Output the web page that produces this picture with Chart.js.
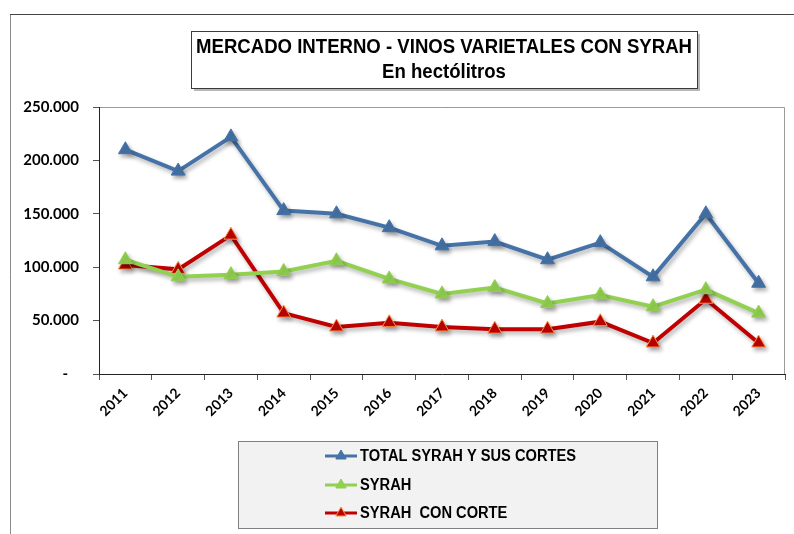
<!DOCTYPE html>
<html>
<head>
<meta charset="utf-8">
<script src="https://cdn.jsdelivr.net/npm/chart.js@4.4.1/dist/chart.umd.min.js"></script>
<style>
  html, body { margin: 0; padding: 0; background: #fff; }
  #wrap { position: relative; width: 794px; height: 534px; }
</style>
</head>
<body>
<div id="wrap"><canvas id="chart" width="794" height="534"></canvas></div>
<script>
// chart data
const years = ['2011', '2012', '2013', '2014', '2015', '2016', '2017', '2018', '2019', '2020', '2021', '2022', '2023'];
const totalSyrah = [210000, 190000, 222000, 153000, 150000, 137000, 120000, 124000, 107000, 123000, 91000, 150000, 85000];
const syrah = [107000, 91000, 93000, 96000, 106000, 89000, 75000, 81000, 66000, 74000, 63000, 79000, 57000];
const syrahConCorte = [102000, 98000, 130000, 57000, 44000, 48000, 44000, 42000, 42000, 49000, 29000, 70000, 29000];
const seriesNames = ['TOTAL SYRAH Y SUS CORTES', 'SYRAH', 'SYRAH  CON CORTE'];
const yTicks = [0, 50000, 100000, 150000, 200000, 250000];
const titleLines = ['MERCADO INTERNO - VINOS VARIETALES CON SYRAH', 'En hectólitros'];

function formatMiles(v) {
    if (v === 0) return '-   ';
    return String(v).replace(/\B(?=(\d{3})+(?!\d))/g, '.');
}

// soft shadow under each line
const lineShadow = {
    id: 'lineShadow',
    beforeDatasetDraw(chart) {
        const c = chart.ctx;
        c.save();
        c.shadowColor = 'rgba(0,0,0,0.3)';
        c.shadowBlur = 4;
        c.shadowOffsetX = 2;
        c.shadowOffsetY = 3;
    },
    afterDatasetDraw(chart) {
        chart.ctx.restore();
    }
};

// outer frame, plot box, title box and legend box
const decorations = {
    id: 'decorations',
    beforeDraw(chart) {
        const c = chart.ctx;
        const a = chart.chartArea;
        c.save();
        c.strokeStyle = '#8a8a8a';
        c.lineWidth = 1;
        c.beginPath();
        c.moveTo(10.5, 534);
        c.lineTo(10.5, 14.5);
        c.stroke();
        c.strokeStyle = '#444';
        c.beginPath();
        c.moveTo(10, 14.5);
        c.lineTo(794, 14.5);
        c.stroke();
        // plot box top / right
        c.strokeStyle = '#9a9a9a';
        c.beginPath();
        c.moveTo(a.left, Math.round(a.top) + 0.5);
        c.lineTo(Math.round(a.right) - 0.5, Math.round(a.top) + 0.5);
        c.lineTo(Math.round(a.right) - 0.5, a.bottom);
        c.stroke();
        c.restore();
    },
    afterDraw(chart) {
        const c = chart.ctx;
        c.save();
        // title box
        const tx = 191, ty = 31, tw = 506, th = 57;
        c.fillStyle = 'rgba(0,0,0,0.28)';
        c.fillRect(tx + 3, ty + 3, tw, th);
        c.fillStyle = '#fff';
        c.fillRect(tx, ty, tw, th);
        c.strokeStyle = '#3a3a3a';
        c.lineWidth = 1;
        c.strokeRect(tx + 0.5, ty + 0.5, tw, th);
        c.fillStyle = '#000';
        c.textAlign = 'center';
        c.textBaseline = 'middle';
        c.font = 'bold 20px "Liberation Sans", Arial, sans-serif';
        const w1 = c.measureText(titleLines[0]).width;
        const sx = Math.min(1, 496 / w1);
        const cx = tx + tw / 2;
        c.save();
        c.translate(cx, 47);
        c.scale(sx, 1);
        c.fillText(titleLines[0], 0, 0);
        c.restore();
        c.save();
        c.translate(cx, 72);
        c.scale(sx, 1);
        c.fillText(titleLines[1], 0, 0);
        c.restore();

        // legend box
        const lx = 238, ly = 441, lw = 419, lh = 87;
        c.fillStyle = '#f2f2f2';
        c.fillRect(lx, ly, lw, lh);
        c.strokeStyle = '#808080';
        c.strokeRect(lx + 0.5, ly + 0.5, lw, lh);
        const rows = [456, 485, 513];
        c.font = 'bold 16px "Liberation Sans", Arial, sans-serif';
        const lw1 = c.measureText(seriesNames[0]).width;
        const lsx = Math.min(1, 216 / lw1);
        chart.data.datasets.forEach((ds, i) => {
            const y = rows[i];
            c.strokeStyle = ds.borderColor;
            c.lineWidth = 3;
            c.beginPath();
            c.moveTo(325, y);
            c.lineTo(357, y);
            c.stroke();
            const r = 6;
            c.beginPath();
            c.moveTo(341, y - r);
            c.lineTo(341 + r * 0.866, y + r * 0.5);
            c.lineTo(341 - r * 0.866, y + r * 0.5);
            c.closePath();
            c.fillStyle = ds.pointBackgroundColor;
            c.fill();
            c.lineWidth = 1;
            c.strokeStyle = ds.pointBorderColor;
            c.stroke();
            c.fillStyle = '#000';
            c.textAlign = 'left';
            c.textBaseline = 'middle';
            c.save();
            c.translate(360, y + 1);
            c.scale(lsx, 1);
            c.fillText(ds.label, 0, 0);
            c.restore();
        });
        c.restore();
    }
};

const ctx = document.getElementById('chart').getContext('2d');
const chart = new Chart(ctx, {
    type: 'line',
    data: {
        labels: years,
        datasets: [{
            label: seriesNames[0],
            data: totalSyrah,
            borderColor: '#4572a7',
            pointBackgroundColor: '#4572a7',
            pointBorderColor: '#4572a7',
            pointBorderWidth: 1,
            borderWidth: 4
        }, {
            label: seriesNames[1],
            data: syrah,
            borderColor: '#92d050',
            pointBackgroundColor: '#92d050',
            pointBorderColor: '#92d050',
            pointBorderWidth: 1,
            borderWidth: 4
        }, {
            label: seriesNames[2],
            data: syrahConCorte,
            borderColor: '#c00000',
            pointBackgroundColor: '#c00000',
            pointBorderColor: '#f79646',
            pointBorderWidth: 1,
            borderWidth: 4
        }]
    },
    options: {
        responsive: false,
        animation: false,
        devicePixelRatio: 1,
        layout: { padding: { left: 0, top: 107, right: 1, bottom: 100 } },
        elements: {
            line: { tension: 0, fill: false },
            point: { pointStyle: 'triangle', radius: 8 }
        },
        plugins: {
            legend: { display: false },
            title: { display: false },
            tooltip: { enabled: false }
        },
        scales: {
            x: {
                type: 'category',
                offset: true,
                afterFit: s => { s.height = 60; },
                grid: { offset: true, drawOnChartArea: false, tickLength: 6, tickColor: '#555' },
                border: { color: '#222', width: 1 },
                ticks: {
                    color: '#000',
                    font: { family: 'Lato', weight: 'bold', size: 14 },
                    minRotation: 45,
                    maxRotation: 45,
                    padding: 5,
                    autoSkip: false
                }
            },
            y: {
                min: 0,
                max: 250000,
                afterFit: s => { s.width = 99; },
                afterBuildTicks: s => { s.ticks = yTicks.map(v => ({ value: v })); },
                grid: { drawOnChartArea: false, tickLength: 6, tickColor: '#555' },
                border: { color: '#222', width: 1 },
                ticks: {
                    color: '#000',
                    font: { family: 'Lato', weight: 'bold', size: 15 },
                    padding: 14,
                    callback: v => formatMiles(v)
                }
            }
        }
    },
    plugins: [lineShadow, decorations]
});
</script>
</body>
</html>
